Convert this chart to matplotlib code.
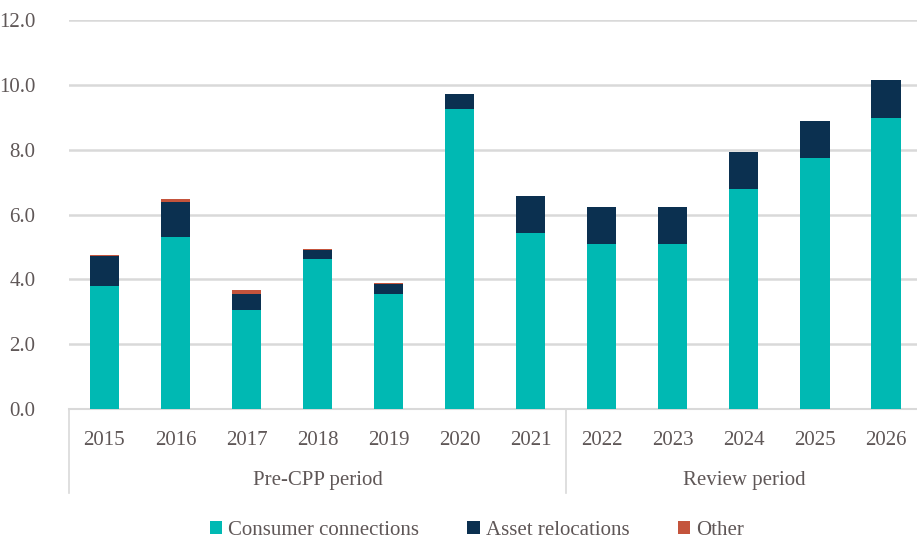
import matplotlib.pyplot as plt
import matplotlib.transforms as mtransforms
import numpy as np

years = ["2015", "2016", "2017", "2018", "2019", "2020", "2021",
         "2022", "2023", "2024", "2025", "2026"]
consumer = [3.79, 5.32, 3.05, 4.62, 3.54, 9.27, 5.43, 5.08, 5.08, 6.78, 7.74, 8.99]
asset = [0.92, 1.08, 0.51, 0.28, 0.31, 0.44, 1.15, 1.15, 1.15, 1.15, 1.14, 1.15]
other = [0.04, 0.07, 0.12, 0.04, 0.04, 0.0, 0.0, 0.0, 0.0, 0.0, 0.0, 0.0]
groups = ["Pre-CPP period", "Review period"]
group_sizes = [7, 5]

text_col = "#5f5757"
grid_col = "#d9d9d9"
plt.rcParams['font.family'] = ['Liberation Serif', 'DejaVu Serif']
plt.rcParams['font.size'] = 15

fig = plt.figure(figsize=(9.17, 5.42), dpi=100)
ax = fig.add_axes([0.075, 0.2454, 0.93, 0.7176])

x = np.arange(len(years))
w = 0.41
b1 = ax.bar(x, consumer, w, color="#00b9b3", label="Consumer connections", zorder=3)
bottom2 = np.array(consumer)
b2 = ax.bar(x, asset, w, bottom=bottom2, color="#0b3050", label="Asset relocations", zorder=3)
bottom3 = bottom2 + np.array(asset)
b3 = ax.bar(x, other, w, bottom=bottom3, color="#c4543c", label="Other", zorder=3)

ax.set_ylim(0, 12)
ax.set_xlim(-0.5, len(years) - 0.5)
ax.set_yticks(np.arange(0, 12.1, 2))
ax.set_yticklabels([f"{v:.1f}" for v in np.arange(0, 12.1, 2)], color=text_col)
ax.yaxis.grid(True, color=grid_col, linewidth=1.8, zorder=0)
ax.tick_params(axis='y', length=0, pad=24)
ax.set_xticks(x)
ax.set_xticklabels(years, color=text_col)
ax.tick_params(axis='x', length=0, pad=16)

for s in ["top", "right", "left"]:
    ax.spines[s].set_visible(False)
ax.spines["bottom"].set_color(grid_col)
ax.spines["bottom"].set_linewidth(1.5)

# group separators and labels under the year labels
trans = mtransforms.blended_transform_factory(ax.transData, ax.transAxes)
edges = [-0.5]
for n in group_sizes:
    edges.append(edges[-1] + n)
for e in edges:
    ax.plot([e, e], [0, -0.216], transform=trans, color=grid_col,
            linewidth=1.2, clip_on=False)
for i, g in enumerate(groups):
    mid = (edges[i] + edges[i + 1]) / 2
    ax.text(mid, -0.183, g, transform=trans, ha="center", va="center",
            color=text_col, fontsize=15)

fig.legend(handles=[b1, b2, b3], loc="center", bbox_to_anchor=(0.52, 0.022),
           ncol=3, frameon=False, handlelength=0.6, handleheight=0.6,
           handletextpad=0.3, columnspacing=2.3, labelcolor=text_col, fontsize=15)

fig.savefig("out.png", dpi=100)
